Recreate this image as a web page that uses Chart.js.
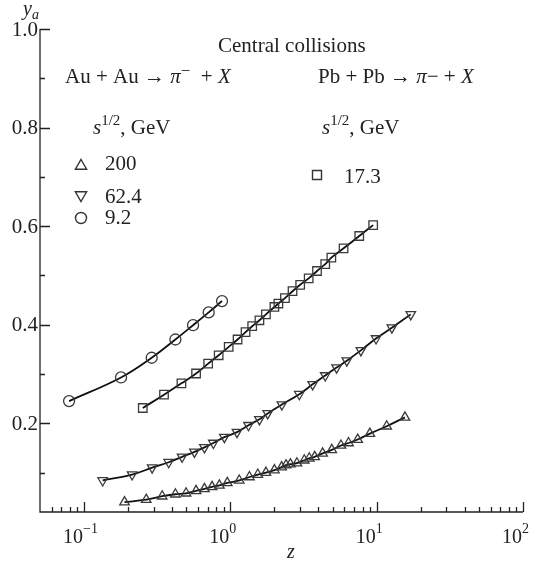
<!DOCTYPE html>
<html>
<head>
<meta charset="utf-8">
<script src="https://cdn.jsdelivr.net/npm/chart.js@4.4.0/dist/chart.umd.min.js"></script>
<style>
  html, body { margin: 0; padding: 0; background: #fff; }
  #wrap { width: 536px; height: 564px; }
</style>
</head>
<body>
<div id="wrap"><canvas id="chart" width="536" height="564"></canvas></div>
<script>
// data
const z200 = [0.189, 0.266, 0.342, 0.421, 0.498, 0.583, 0.665, 0.750, 0.841, 0.953, 1.15, 1.35, 1.54, 1.75, 2.0, 2.24, 2.40, 2.57, 2.85, 3.20, 3.46, 3.77, 4.27, 4.93, 5.70, 6.42, 7.42, 8.98, 11.7, 15.6];
const y200 = [0.040, 0.045, 0.052, 0.056, 0.058, 0.063, 0.067, 0.071, 0.074, 0.079, 0.084, 0.091, 0.096, 0.100, 0.105, 0.111, 0.115, 0.117, 0.119, 0.125, 0.129, 0.132, 0.139, 0.146, 0.155, 0.160, 0.167, 0.179, 0.194, 0.212];

const z62 = [0.134, 0.213, 0.292, 0.379, 0.468, 0.568, 0.665, 0.765, 0.91, 1.11, 1.33, 1.58, 1.80, 2.25, 2.96, 3.65, 4.45, 5.32, 6.25, 7.8, 9.9, 12.7, 17.1];
const y62 = [0.084, 0.096, 0.110, 0.121, 0.132, 0.142, 0.151, 0.160, 0.172, 0.182, 0.196, 0.208, 0.220, 0.238, 0.259, 0.279, 0.297, 0.313, 0.327, 0.348, 0.372, 0.394, 0.421];

const z9 = [0.079, 0.179, 0.290, 0.421, 0.556, 0.711, 0.877];
const y9 = [0.245, 0.293, 0.333, 0.370, 0.399, 0.425, 0.448];

const z17 = [0.252, 0.352, 0.463, 0.583, 0.705, 0.832, 0.974, 1.12, 1.27, 1.41, 1.58, 1.75, 2.0, 2.13, 2.36, 2.66, 3.0, 3.43, 3.91, 4.45, 4.9, 5.94, 7.6, 9.46];
const y17 = [0.231, 0.258, 0.281, 0.301, 0.321, 0.338, 0.355, 0.370, 0.385, 0.397, 0.409, 0.421, 0.436, 0.443, 0.454, 0.468, 0.481, 0.494, 0.509, 0.523, 0.536, 0.555, 0.580, 0.602];

// axis ticks
const yTicks = [0.1, 0.2, 0.3, 0.4, 0.5, 0.6, 0.7, 0.8, 0.9, 1.0];
const yLabels = ["", "0.2", "", "0.4", "", "0.6", "", "0.8", "", "1.0"];
const xMajor = [0.1, 1, 10, 100];
const xExp = ["\u22121", "0", "1", "2"];
const xMinor = [0.06, 0.07, 0.08, 0.09, 0.2, 0.3, 0.4, 0.5, 0.6, 0.7, 0.8, 0.9,
                2, 3, 4, 5, 6, 7, 8, 9, 20, 30, 40, 50, 60, 70, 80, 90];

const SERIF = '"Liberation Serif", "DejaVu Serif", serif';
const INK = "#222";

function pts(xs, ys) {
  return xs.map((x, i) => ({ x: x, y: ys[i] }));
}

function series(label, xs, ys, style, radius, rot) {
  return {
    label: label,
    data: pts(xs, ys),
    showLine: true,
    borderColor: "#111",
    borderWidth: 1.8,
    tension: 0.4,
    pointStyle: style,
    pointRotation: rot || 0,
    pointRadius: radius,
    pointHoverRadius: radius,
    pointBorderColor: "#3a3a3a",
    pointBorderWidth: 1.3,
    pointBackgroundColor: "rgba(255,255,255,0)"
  };
}

// draw a run of text pieces: [text, italic, size, dy]
function richText(ctx, x, y, parts) {
  let cx = x;
  parts.forEach(p => {
    ctx.font = (p[1] ? "italic " : "") + p[2] + "px " + SERIF;
    ctx.fillText(p[0], cx, y + (p[3] || 0));
    cx += ctx.measureText(p[0]).width;
  });
  return cx;
}

function marker(ctx, kind, x, y, r) {
  ctx.beginPath();
  if (kind === "circle") {
    ctx.arc(x, y, r, 0, Math.PI * 2);
  } else if (kind === "up") {
    ctx.moveTo(x, y - r);
    ctx.lineTo(x + r * 0.866, y + r * 0.5);
    ctx.lineTo(x - r * 0.866, y + r * 0.5);
    ctx.closePath();
  } else if (kind === "down") {
    ctx.moveTo(x, y + r);
    ctx.lineTo(x + r * 0.866, y - r * 0.5);
    ctx.lineTo(x - r * 0.866, y - r * 0.5);
    ctx.closePath();
  } else {
    ctx.rect(x - r, y - r, 2 * r, 2 * r);
  }
  ctx.stroke();
}

const decor = {
  id: "decor",
  afterDraw(chart) {
    const ctx = chart.ctx;
    const xs = chart.scales.x, ys = chart.scales.y;
    const a = chart.chartArea;
    ctx.save();
    ctx.strokeStyle = INK;
    ctx.fillStyle = INK;
    ctx.lineWidth = 1.3;

    // axis lines
    ctx.beginPath();
    ctx.moveTo(a.left, a.top);
    ctx.lineTo(a.left, a.bottom);
    ctx.lineTo(a.right, a.bottom);
    ctx.stroke();

    // y ticks, inward
    ctx.beginPath();
    yTicks.forEach((v, i) => {
      const py = Math.round(ys.getPixelForValue(v)) + 0.5;
      const len = yLabels[i] ? 10 : 5;
      ctx.moveTo(a.left, py);
      ctx.lineTo(a.left + len, py);
    });
    // x ticks, inward
    xMajor.forEach(v => {
      const px = Math.round(xs.getPixelForValue(v)) + 0.5;
      ctx.moveTo(px, a.bottom);
      ctx.lineTo(px, a.bottom - 10);
    });
    xMinor.forEach(v => {
      const px = Math.round(xs.getPixelForValue(v)) + 0.5;
      ctx.moveTo(px, a.bottom);
      ctx.lineTo(px, a.bottom - 5);
    });
    ctx.stroke();

    // y tick labels
    ctx.font = "21px " + SERIF;
    ctx.textAlign = "right";
    ctx.textBaseline = "middle";
    yTicks.forEach((v, i) => {
      if (yLabels[i]) ctx.fillText(yLabels[i], a.left - 2, ys.getPixelForValue(v) + 1);
    });

    // x tick labels: 10 with superscript
    ctx.textAlign = "left";
    ctx.textBaseline = "alphabetic";
    xMajor.forEach((v, i) => {
      const px = xs.getPixelForValue(v);
      ctx.font = "20px " + SERIF;
      const w = ctx.measureText("10").width;
      ctx.fillText("10", px - w - 1, 543);
      ctx.font = "14px " + SERIF;
      ctx.fillText(xExp[i], px - 1, 533);
    });

    // axis titles
    richText(ctx, 23, 15, [["y", true, 20], ["a", true, 14, 4]]);
    richText(ctx, 287, 558, [["z", true, 20]]);

    // annotations
    richText(ctx, 218, 52, [["Central collisions", false, 21]]);
    richText(ctx, 65, 83, [["Au + Au \u2192 ", false, 21], ["\u03c0", true, 21], ["\u2212", false, 17, -7], ["  + ", false, 21], ["X", true, 21]]);
    richText(ctx, 318, 83, [["Pb + Pb \u2192 ", false, 21], ["\u03c0", true, 21], ["\u2212", false, 21], [" + ", false, 21], ["X", true, 21]]);
    richText(ctx, 93, 134, [["s", true, 21], ["1/2", false, 15, -9], [", GeV", false, 21]]);
    richText(ctx, 322, 134, [["s", true, 21], ["1/2", false, 15, -9], [", GeV", false, 21]]);

    // legend entries
    ctx.lineWidth = 1.4;
    ctx.strokeStyle = "#333";
    marker(ctx, "up", 81, 166, 6.5);
    marker(ctx, "down", 81, 195, 6.5);
    marker(ctx, "circle", 81, 218, 5.5);
    marker(ctx, "rect", 317, 175, 4.5);
    richText(ctx, 105, 170, [["200", false, 21]]);
    richText(ctx, 105, 203, [["62.4", false, 21]]);
    richText(ctx, 105, 224, [["9.2", false, 21]]);
    richText(ctx, 344, 183, [["17.3", false, 21]]);

    ctx.restore();
  }
};

const ctx = document.getElementById("chart").getContext("2d");
const chart = new Chart(ctx, {
  type: "scatter",
  data: {
    datasets: [
      series("200", z200, y200, "triangle", 5.5, 0),
      series("62.4", z62, y62, "triangle", 5.5, 180),
      series("9.2", z9, y9, "circle", 5.5, 0),
      series("17.3", z17, y17, "rect", 6, 0)
    ]
  },
  options: {
    responsive: false,
    animation: false,
    devicePixelRatio: 1,
    layout: { padding: { left: 40, right: 13, top: 29, bottom: 52 } },
    scales: {
      x: { type: "logarithmic", min: 0.05, max: 100, display: false },
      y: { type: "linear", min: 0.02, max: 1.0, display: false }
    },
    plugins: {
      legend: { display: false },
      tooltip: { enabled: false }
    },
    elements: { line: { fill: false } }
  },
  plugins: [decor]
});
</script>
</body>
</html>
